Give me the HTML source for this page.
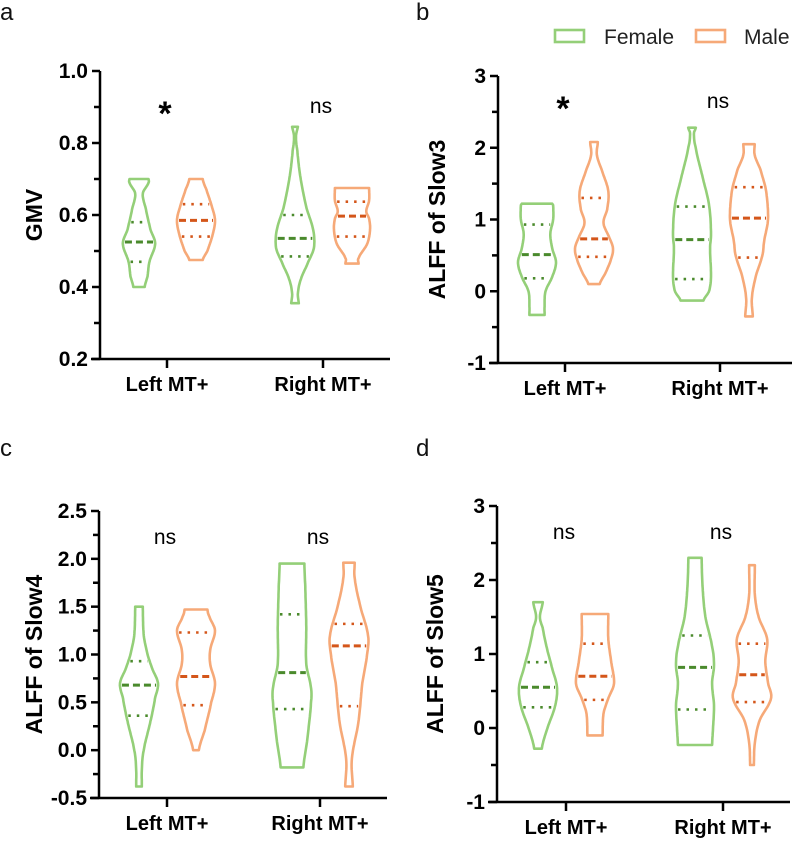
<!DOCTYPE html>
<html><head><meta charset="utf-8"><style>
body{margin:0;background:#fff;}
svg{display:block;font-family:"Liberation Sans",sans-serif;}
</style></head><body>
<svg id="fig" width="796" height="845" viewBox="0 0 796 845"></svg>
<script>
const categories = ["Left MT+", "Right MT+"];
const groups = ["Female", "Male"];
// Violin profiles: [value, relative density]
const aFemaleLeft  = [[0.40,0.3],[0.43,0.45],[0.47,0.55],[0.52,0.85],[0.56,0.6],[0.62,0.35],[0.66,0.2],[0.69,0.5],[0.70,0.5]];
const aMaleLeft    = [[0.475,0.35],[0.50,0.6],[0.54,0.85],[0.585,1.0],[0.63,0.8],[0.67,0.55],[0.70,0.35]];
const aFemaleRight = [[0.355,0.2],[0.38,0.15],[0.42,0.3],[0.47,0.7],[0.51,1.0],[0.56,0.95],[0.62,0.6],[0.70,0.3],[0.78,0.12],[0.82,0.05],[0.845,0.15]];
const aMaleRight   = [[0.465,0.35],[0.48,0.35],[0.52,0.8],[0.56,0.95],[0.59,0.9],[0.61,0.75],[0.64,0.9],[0.675,0.9]];
const aStats = [[0.47,0.525,0.58],[0.54,0.585,0.63],[0.485,0.535,0.60],[0.54,0.597,0.637]];

const bFemaleLeft  = [[-0.33,0.4],[-0.2,0.4],[0.0,0.45],[0.2,0.8],[0.4,1.0],[0.6,0.8],[0.8,0.7],[1.0,0.85],[1.2,0.85],[1.22,0.8]];
const bMaleLeft    = [[0.1,0.3],[0.25,0.6],[0.45,0.9],[0.6,1.0],[0.75,0.8],[0.95,0.5],[1.15,0.7],[1.4,0.75],[1.7,0.4],[1.9,0.15],[2.08,0.2]];
const bFemaleRight = [[-0.13,0.6],[0.0,0.9],[0.2,1.0],[0.6,0.95],[0.8,1.0],[1.2,0.9],[1.6,0.55],[2.0,0.2],[2.2,0.1],[2.28,0.2]];
const bMaleRight   = [[-0.35,0.2],[-0.1,0.15],[0.2,0.35],[0.5,0.7],[0.7,0.8],[1.0,1.0],[1.4,0.9],[1.7,0.6],[1.9,0.3],[2.05,0.3]];
const bStats = [[0.18,0.51,0.93],[0.48,0.73,1.3],[0.17,0.72,1.18],[0.47,1.02,1.45]];

const cFemaleLeft  = [[-0.38,0.15],[-0.2,0.15],[0.0,0.25],[0.3,0.6],[0.55,0.85],[0.7,1.0],[0.85,0.7],[1.0,0.45],[1.2,0.25],[1.5,0.2]];
const cMaleLeft    = [[0.0,0.15],[0.2,0.45],[0.5,0.8],[0.7,1.0],[0.9,0.75],[1.05,0.75],[1.25,1.0],[1.4,0.7],[1.47,0.6]];
const cFemaleRight = [[-0.18,0.6],[0.1,0.8],[0.5,1.0],[0.65,1.0],[0.9,0.75],[1.3,0.75],[1.7,0.7],[1.95,0.65]];
const cMaleRight   = [[-0.38,0.2],[-0.1,0.15],[0.3,0.5],[0.7,0.7],[1.0,0.95],[1.2,1.0],[1.5,0.6],[1.8,0.3],[1.96,0.3]];
const cStats = [[0.36,0.68,0.93],[0.47,0.77,1.23],[0.43,0.81,1.42],[0.46,1.09,1.32]];

const dFemaleLeft  = [[-0.28,0.2],[0.0,0.5],[0.3,0.9],[0.55,1.0],[0.8,0.75],[1.1,0.45],[1.35,0.25],[1.5,0.1],[1.7,0.25]];
const dMaleLeft    = [[-0.1,0.4],[0.2,0.45],[0.4,0.7],[0.6,1.0],[0.9,0.85],[1.2,0.7],[1.54,0.7]];
const dFemaleRight = [[-0.23,0.9],[0.0,0.95],[0.3,1.0],[0.6,0.9],[0.85,1.0],[1.1,0.9],[1.5,0.55],[1.9,0.4],[2.3,0.35]];
const dMaleRight   = [[-0.5,0.1],[-0.2,0.15],[0.1,0.4],[0.4,1.0],[0.6,0.85],[0.9,0.7],[1.2,0.8],[1.5,0.35],[1.8,0.15],[2.2,0.15]];
const dStats = [[0.28,0.55,0.89],[0.38,0.70,1.14],[0.25,0.82,1.25],[0.35,0.72,1.14]];

const aTicks = ["0.2","0.4","0.6","0.8","1.0"];
const bTicks = ["-1","0","1","2","3"];
const cTicks = ["-0.5","0.0","0.5","1.0","1.5","2.0","2.5"];
const dTicks = ["-1","0","1","2","3"];
const aSig = ["*","ns"], bSig = ["*","ns"], cSig = ["ns","ns"], dSig = ["ns","ns"];

const NS = "http://www.w3.org/2000/svg";
const svg = document.getElementById("fig");
function mk(tag, attrs, parent){const e=document.createElementNS(NS,tag);for(const k in attrs)e.setAttribute(k,attrs[k]);(parent||svg).appendChild(e);return e;}
const COL = [{line:"#94cf78",dark:"#4a8a2c"},{line:"#f6a978",dark:"#d4561a"}];

// smooth density at value v via Catmull-Rom on the profile
function densAt(prof, v){
  const n=prof.length;
  if(v<=prof[0][0]) return prof[0][1];
  if(v>=prof[n-1][0]) return prof[n-1][1];
  let i=0; while(i<n-2 && v>prof[i+1][0]) i++;
  const p0=prof[Math.max(i-1,0)][1],p1=prof[i][1],p2=prof[i+1][1],p3=prof[Math.min(i+2,n-1)][1];
  const t=(v-prof[i][0])/(prof[i+1][0]-prof[i][0]);
  const r=0.5*((2*p1)+(-p0+p2)*t+(2*p0-5*p1+4*p2-p3)*t*t+(-p0+3*p1-3*p2+p3)*t*t*t);
  return Math.max(0.04,r);
}

function panel(p){
  const g=mk("g",{});
  
  
  const tv=p.ticks.map(Number), vmin=tv[0], vmax=tv[tv.length-1];
  const Y=v=>p.yb-(v-vmin)/(vmax-vmin)*(p.yb-p.yt);
  const X=(ci,gi)=>p.cx[ci]+(gi===0?-28:29);
  const L=mk("text",{x:p.lx,y:p.ly,"font-size":24,fill:"#111"},g);L.textContent=p.letter;
  
  const ya=mk("line",{x1:p.ax,y1:p.yt,x2:p.ax,y2:p.yb,stroke:"#000","stroke-width":2.5},g);
  
  const xa=mk("line",{x1:p.ax-9,y1:p.yb,x2:p.xe,y2:p.yb,stroke:"#000","stroke-width":2.5},g);
  
  for(let i=0;i<tv.length;i++){
    const y=Y(tv[i]);
    mk("line",{x1:p.ax-8,y1:y,x2:p.ax,y2:y,stroke:"#000","stroke-width":2.5},g);
    const t=mk("text",{x:p.ax-12,y:y+7,"font-size":21,"font-weight":"bold","text-anchor":"end"},g);t.textContent=p.ticks[i];
    
    if(i<tv.length-1){const ym=Y((tv[i]+tv[i+1])/2);mk("line",{x1:p.ax-6,y1:ym,x2:p.ax,y2:ym,stroke:"#000","stroke-width":2.5},g);}
  }
  const yt=mk("text",{x:0,y:0,"font-size":23,"font-weight":"bold","text-anchor":"middle",transform:`translate(${p.tx},${(p.yt+p.yb)/2}) rotate(-90)`},g);
  yt.textContent=p.title;
  categories.forEach((c,ci)=>{
    mk("line",{x1:p.cx[ci],y1:p.yb,x2:p.cx[ci],y2:p.yb+9,stroke:"#000","stroke-width":2.5},g);
    const t=mk("text",{x:p.cx[ci],y:p.yb+32,"font-size":20,"font-weight":"bold","text-anchor":"middle"},g);t.textContent=c;
    
    const star=p.sig[ci]==="*";
    const s=mk("text",{x:p.cx[ci]-2,y:p.sy+(star?12:0),"font-size":star?34:21,"font-weight":star?"bold":"normal","text-anchor":"middle"},g);
    s.textContent=p.sig[ci];
  });
  p.violins.forEach((prof,k)=>{
    const ci=k>>1, gi=k&1, cx=X(ci,gi), W=19, col=COL[gi];
    const lo=prof[0][0], hi=prof[prof.length-1][0], N=80;
    const rightPts=[], leftPts=[];
    for(let s=0;s<=N;s++){
      const v=lo+(hi-lo)*s/N, w=densAt(prof,v)*W, y=Y(v);
      rightPts.push((cx+w).toFixed(1)+" "+y.toFixed(1));
      leftPts.push((cx-w).toFixed(1)+" "+y.toFixed(1));
    }
    const d="M"+rightPts.join(" L")+" L"+leftPts.reverse().join(" L")+" Z";
    const v=mk("path",{d:d,fill:"none",stroke:col.line,"stroke-width":2.6,"stroke-linejoin":"round"},g);
    
    
    const st=p.stats[k];
    [0,1,2].forEach(j=>{
      const hw=densAt(prof,st[j])*W-2, y=Y(st[j]);
      const ln=mk("line",{x1:cx-hw,y1:y,x2:cx+hw,y2:y,stroke:col.dark,"stroke-width":j===1?3:2.6,"stroke-dasharray":j===1?"7,4":"2.5,6","stroke-linecap":"butt"},g);
      
    });
  });
}

panel({name:"panel-a",letter:"a",lx:0,ly:20,ax:100,yt:71,yb:359,xe:390,cx:[167,323],tx:42,title:"GMV",ticks:aTicks,sig:aSig,sy:113,violins:[aFemaleLeft,aMaleLeft,aFemaleRight,aMaleRight],stats:aStats});
panel({name:"panel-b",letter:"b",lx:416,ly:20,ax:498,yt:76,yb:363,xe:792,cx:[565,720],tx:445,title:"ALFF of Slow3",ticks:bTicks,sig:bSig,sy:108,violins:[bFemaleLeft,bMaleLeft,bFemaleRight,bMaleRight],stats:bStats});
panel({name:"panel-c",letter:"c",lx:0,ly:456,ax:99,yt:511,yb:798,xe:387,cx:[167,320],tx:42,title:"ALFF of Slow4",ticks:cTicks,sig:cSig,sy:544,violins:[cFemaleLeft,cMaleLeft,cFemaleRight,cMaleRight],stats:cStats});
panel({name:"panel-d",letter:"d",lx:416,ly:456,ax:497,yt:506,yb:802,xe:790,cx:[566,723],tx:443,title:"ALFF of Slow5",ticks:dTicks,sig:dSig,sy:539,violins:[dFemaleLeft,dMaleLeft,dFemaleRight,dMaleRight],stats:dStats});

const lg=mk("g",{});


groups.forEach((gname,i)=>{
  const bx=[555,696][i], tx=[604,744][i];
  const r=mk("rect",{x:bx,y:30,width:29,height:12,fill:"none",stroke:COL[i].line,"stroke-width":2.6},lg);
  
  const t=mk("text",{x:tx,y:44,"font-size":21,fill:"#222"},lg);t.textContent=gname;
  
});
</script>
</body></html>
